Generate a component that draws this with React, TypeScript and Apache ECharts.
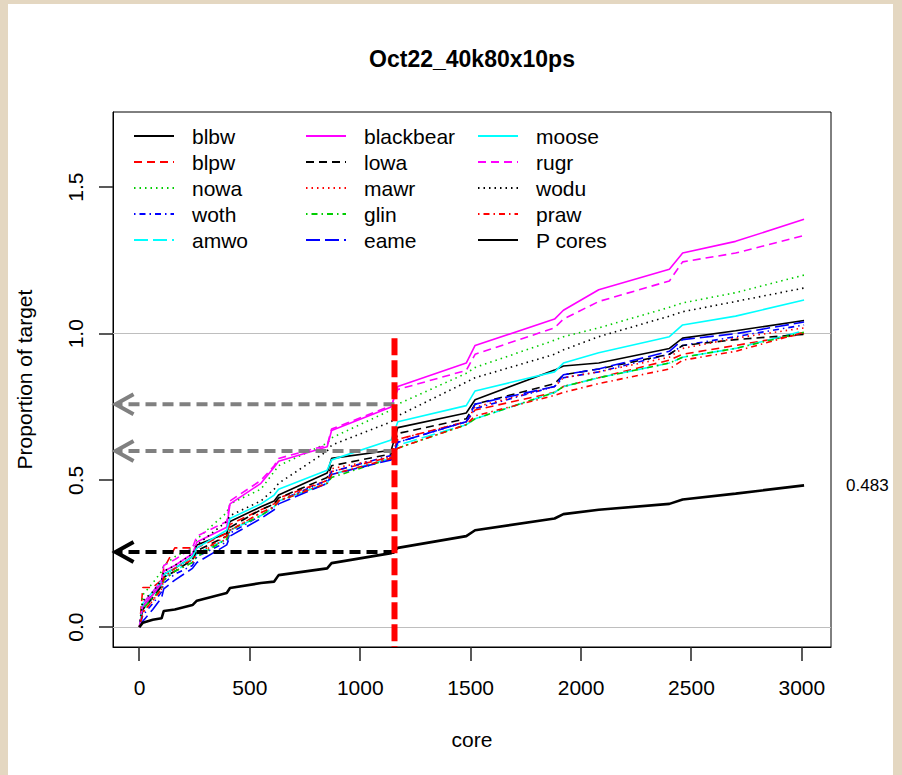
import React, { useEffect, useRef } from "react";
import * as echarts from "echarts";

const chartTitle = "Oct22_40k80x10ps";
const xAxisTitle = "core";
const yAxisTitle = "Proportion of target";
const xTicks = [0, 500, 1000, 1500, 2000, 2500, 3000];
const yTicks = [0, 0.5, 1.0, 1.5];

const cores = [0, 15, 60, 100, 110, 160, 240, 260, 395, 410, 550, 610, 630, 850, 870, 1140, 1170, 1480, 1520, 1880, 1920, 2080, 2400, 2460, 2700, 3010];

const blbw = [0, 0.07, 0.11, 0.15, 0.18, 0.2, 0.24, 0.28, 0.32, 0.36, 0.41, 0.43, 0.45, 0.525, 0.575, 0.603, 0.68, 0.73, 0.775, 0.876, 0.89, 0.9, 0.95, 0.985, 1.01, 1.045];
const blpw = [0, 0.135, 0.135, 0.16, 0.2, 0.27, 0.27, 0.27, 0.32, 0.35, 0.4, 0.42, 0.44, 0.5, 0.53, 0.58, 0.64, 0.7, 0.74, 0.8, 0.82, 0.85, 0.91, 0.93, 0.96, 1.0];
const nowa = [0, 0.11, 0.15, 0.19, 0.21, 0.24, 0.27, 0.3, 0.39, 0.42, 0.47, 0.53, 0.55, 0.627, 0.645, 0.74, 0.76, 0.865, 0.885, 0.978, 0.99, 1.02, 1.09, 1.105, 1.14, 1.2];
const woth = [0, 0.04, 0.08, 0.12, 0.15, 0.18, 0.21, 0.24, 0.29, 0.32, 0.38, 0.41, 0.43, 0.5, 0.53, 0.585, 0.63, 0.7, 0.745, 0.82, 0.85, 0.87, 0.93, 0.96, 0.99, 1.03];
const amwo = [0, 0.06, 0.1, 0.14, 0.17, 0.19, 0.23, 0.25, 0.3, 0.33, 0.38, 0.41, 0.43, 0.49, 0.52, 0.575, 0.62, 0.69, 0.71, 0.8, 0.82, 0.85, 0.9, 0.92, 0.95, 1.01];
const blackbear = [0, 0.07, 0.11, 0.15, 0.19, 0.21, 0.25, 0.29, 0.34, 0.42, 0.49, 0.545, 0.565, 0.615, 0.67, 0.75, 0.82, 0.9, 0.96, 1.05, 1.08, 1.15, 1.22, 1.275, 1.315, 1.39];
const lowa = [0, 0.06, 0.1, 0.14, 0.17, 0.19, 0.23, 0.26, 0.31, 0.34, 0.4, 0.42, 0.44, 0.51, 0.55, 0.59, 0.66, 0.71, 0.76, 0.83, 0.86, 0.88, 0.93, 0.96, 0.98, 0.998];
const mawr = [0, 0.05, 0.09, 0.13, 0.16, 0.19, 0.22, 0.25, 0.3, 0.33, 0.39, 0.41, 0.43, 0.5, 0.54, 0.58, 0.64, 0.7, 0.75, 0.82, 0.85, 0.87, 0.92, 0.95, 0.985, 1.02];
const glin = [0, 0.06, 0.1, 0.13, 0.16, 0.19, 0.22, 0.24, 0.3, 0.33, 0.38, 0.41, 0.43, 0.49, 0.51, 0.575, 0.61, 0.69, 0.71, 0.8, 0.82, 0.85, 0.9, 0.92, 0.95, 1.005];
const eame = [0, 0.02, 0.06, 0.1, 0.13, 0.16, 0.2, 0.22, 0.28, 0.31, 0.37, 0.4, 0.42, 0.49, 0.52, 0.57, 0.63, 0.7, 0.76, 0.82, 0.86, 0.88, 0.94, 0.98, 1.0, 1.04];
const moose = [0, 0.08, 0.12, 0.16, 0.18, 0.2, 0.24, 0.27, 0.33, 0.37, 0.42, 0.45, 0.47, 0.535, 0.57, 0.638, 0.7, 0.755, 0.805, 0.87, 0.9, 0.935, 0.99, 1.03, 1.06, 1.115];
const rugr = [0, 0.08, 0.12, 0.16, 0.21, 0.23, 0.27, 0.31, 0.36, 0.43, 0.5, 0.55, 0.575, 0.62, 0.675, 0.755, 0.81, 0.875, 0.93, 1.02, 1.05, 1.11, 1.18, 1.245, 1.275, 1.335];
const wodu = [0, 0.09, 0.12, 0.16, 0.19, 0.21, 0.25, 0.28, 0.36, 0.38, 0.43, 0.47, 0.49, 0.6, 0.62, 0.7, 0.72, 0.835, 0.85, 0.93, 0.945, 0.99, 1.06, 1.075, 1.11, 1.156];
const praw = [0, 0.05, 0.09, 0.13, 0.17, 0.2, 0.23, 0.25, 0.31, 0.33, 0.39, 0.41, 0.43, 0.49, 0.52, 0.575, 0.61, 0.69, 0.72, 0.79, 0.8, 0.83, 0.88, 0.91, 0.94, 1.005];
const pCores = [0, 0.015, 0.025, 0.03, 0.055, 0.06, 0.075, 0.09, 0.116, 0.133, 0.15, 0.155, 0.177, 0.2, 0.218, 0.252, 0.27, 0.31, 0.33, 0.37, 0.385, 0.4, 0.42, 0.435, 0.455, 0.483];

const seriesNames = ["blbw", "blpw", "nowa", "woth", "amwo", "blackbear", "lowa", "mawr", "glin", "eame", "moose", "rugr", "wodu", "praw", "P cores"];
const seriesValues = [blbw, blpw, nowa, woth, amwo, blackbear, lowa, mawr, glin, eame, moose, rugr, wodu, praw, pCores];

const referenceLevels = [0, 1];
const cutoffCore = 1155;
const cutoffTop = 0.985;
const arrowLevels = [0.76, 0.6, 0.256];
const arrowTipCore = -113;

// styles
const FONT = "'Liberation Sans', Arial, Helvetica, sans-serif";
const palette = ["#000000", "#FF0000", "#00CD00", "#0000FF", "#00FFFF", "#FF00FF"];
const dashes: any[] = ["solid", [8, 5], [1.5, 4], [1.5, 4, 6, 4], [14, 5]];
const arrowColors = ["#808080", "#808080", "#000000"];
const TICK_LEN = 14;
const X_MIN = -120;
const X_MAX = 3132;
const Y_MIN = -0.068;
const Y_MAX = 1.756;

export default function App() {
  const ref = useRef<HTMLDivElement>(null);

  useEffect(() => {
    if (!ref.current) return;
    const chart = echarts.init(ref.current, undefined, { renderer: "svg" });

    const lineSeries: any[] = seriesNames.map((name, i) => {
      const isP = name === "P cores";
      const s: any = {
        name,
        type: "line",
        data: cores.map((c, j) => [c, seriesValues[i][j]]),
        symbol: "none",
        showSymbol: false,
        silent: true,
        z: isP ? 4 : 3,
        lineStyle: {
          color: isP ? "#000000" : palette[i % 6],
          width: isP ? 2.6 : 1.6,
          type: isP ? "solid" : dashes[i % 5],
        },
        itemStyle: { color: isP ? "#000000" : palette[i % 6] },
      };
      if (isP) {
        s.endLabel = {
          show: true,
          formatter: (p: any) => Number(p.value[1]).toFixed(3),
          distance: 42,
          fontSize: 17,
          color: "#000",
          fontFamily: FONT,
        };
      }
      if (i === 0) {
        s.markLine = {
          silent: true,
          symbol: ["none", "none"],
          label: { show: false },
          lineStyle: { color: "#BEBEBE", type: "solid", width: 1 },
          data: referenceLevels.map((v) => ({ yAxis: v })),
          z: 1,
        };
      }
      return s;
    });

    const arrowSeries = {
      type: "custom",
      silent: true,
      z: 6,
      clip: false,
      data: arrowLevels.map((v) => [cutoffCore, v, arrowTipCore]),
      encode: { x: [0, 2], y: 1 },
      renderItem: (params: any, api: any) => {
        const y = api.value(1);
        const p0 = api.coord([api.value(0), y]);
        const p1 = api.coord([api.value(2), y]);
        const color = arrowColors[params.dataIndex];
        return {
          type: "group",
          children: [
            {
              type: "line",
              shape: { x1: p0[0], y1: p0[1], x2: p1[0] + 2, y2: p1[1] },
              style: { stroke: color, lineWidth: 4, lineDash: [11, 6] },
            },
            {
              type: "polyline",
              shape: {
                points: [
                  [p1[0] + 19, p1[1] - 10],
                  [p1[0] + 1, p1[1]],
                  [p1[0] + 19, p1[1] + 10],
                ],
              },
              style: { stroke: color, lineWidth: 4, fill: null },
            },
          ],
        };
      },
    };

    const cutoffSeries = {
      type: "line",
      name: "cutoff",
      data: [
        [cutoffCore, cutoffTop],
        [cutoffCore, Y_MIN],
      ],
      symbol: "none",
      silent: true,
      z: 8,
      lineStyle: { color: "#FF0000", width: 6, type: [17, 5] },
    };

    const legendCols = [0, 1, 2].map((k) => ({
      data: seriesNames.slice(k * 5, k * 5 + 5),
      orient: "vertical",
      left: 133 + k * 172,
      top: 125.5,
      itemWidth: 40,
      itemHeight: 14,
      itemGap: 5,
      padding: 0,
      selectedMode: false,
      itemStyle: { opacity: 0 },
      textStyle: {
        fontSize: 21,
        lineHeight: 21,
        color: "#000",
        fontFamily: FONT,
        padding: [0, 0, 0, 13],
      },
    }));

    chart.setOption({
      animation: false,
      backgroundColor: "transparent",
      textStyle: { fontFamily: FONT },
      title: {
        text: chartTitle,
        left: 472,
        top: 47,
        textAlign: "center",
        padding: 0,
        textStyle: { fontSize: 23, fontWeight: "bold", color: "#000", fontFamily: FONT },
      },
      legend: legendCols,
      grid: {
        left: 113,
        top: 112,
        width: 718,
        height: 535,
        show: true,
        borderColor: "#000",
        borderWidth: 1,
        backgroundColor: "transparent",
      },
      xAxis: {
        type: "value",
        min: X_MIN,
        max: X_MAX,
        name: xAxisTitle,
        nameLocation: "middle",
        nameGap: 82,
        nameTextStyle: { fontSize: 21, color: "#000", fontFamily: FONT },
        axisLine: { show: true, onZero: false, lineStyle: { color: "#000", width: 1 } },
        axisTick: { show: false },
        axisLabel: {
          show: true,
          customValues: xTicks,
          margin: 30,
          fontSize: 21,
          color: "#000",
          fontFamily: FONT,
          formatter: (v: number) => String(v),
        },
        splitLine: { show: false },
      },
      yAxis: {
        type: "value",
        min: Y_MIN,
        max: Y_MAX,
        name: yAxisTitle,
        nameLocation: "middle",
        nameGap: 78,
        nameRotate: 90,
        nameTextStyle: { fontSize: 21, color: "#000", fontFamily: FONT },
        axisLine: { show: true, onZero: false, lineStyle: { color: "#000", width: 1 } },
        axisTick: { show: false },
        axisLabel: {
          show: true,
          customValues: yTicks,
          rotate: 90,
          margin: 27,
          fontSize: 21,
          color: "#000",
          fontFamily: FONT,
          formatter: (v: number) => v.toFixed(1),
        },
        splitLine: { show: false },
      },
      series: [...lineSeries, arrowSeries, cutoffSeries],
    });

    // tick marks: positions converted from the axes' own scales
    const tickEls: any[] = [];
    xTicks.forEach((v) => {
      const p = chart.convertToPixel({ gridIndex: 0 }, [v, Y_MIN]) as number[];
      tickEls.push({
        type: "rect",
        silent: true,
        z: 100,
        shape: { x: Math.round(p[0]) - 0.75, y: p[1], width: 1.5, height: TICK_LEN },
        style: { fill: "#222" },
      });
    });
    yTicks.forEach((v) => {
      const p = chart.convertToPixel({ gridIndex: 0 }, [X_MIN, v]) as number[];
      tickEls.push({
        type: "rect",
        silent: true,
        z: 100,
        shape: { x: p[0] - TICK_LEN, y: Math.round(p[1]) - 0.75, width: TICK_LEN, height: 1.5 },
        style: { fill: "#222" },
      });
    });
    chart.setOption({ graphic: { elements: tickEls } });

    return () => chart.dispose();
  }, []);

  return (
    <div style={{ position: "fixed", left: 0, top: 0, width: 902, height: 775, background: "#e4d7c1" }}>
      <div style={{ position: "absolute", left: 8, top: 4, width: 885, height: 771, background: "#ffffff" }} />
      <div ref={ref} style={{ position: "absolute", left: 0, top: 0, width: 902, height: 775 }} />
    </div>
  );
}
